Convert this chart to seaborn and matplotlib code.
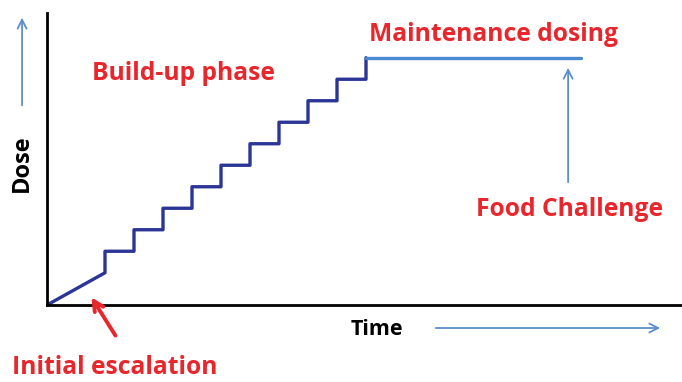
import numpy as np
import pandas as pd
import matplotlib.pyplot as plt
import seaborn as sns

# schematic units: 1 time unit ~ one build-up step, 1 dose unit ~ one increment
escalation_time = [0, 2]
escalation_dose = [0, 1.5]
step_times = [2, 3, 4, 5, 6, 7, 8, 9, 10, 11]
step_doses = [1.5, 2.5, 3.5, 4.5, 5.5, 6.5, 7.5, 8.5, 9.5, 10.5, 11.5]
maint_time = [11, 18.4]
maint_dose = [11.5, 11.5]

RED = "#e8262c"
NAVY = "#2b3595"
LIGHT = "#4a8ad0"
ARROW = "#5b8fc9"


def build_path():
    xs = list(escalation_time)
    ys = list(escalation_dose)
    for i, t in enumerate(step_times):
        xs += [t, t]
        ys += [step_doses[i], step_doses[i + 1]]
    xs.append(maint_time[0])
    ys.append(maint_dose[0])
    return pd.DataFrame({"Time": xs, "Dose": ys})


sns.set_style("white")
plt.rcParams["font.family"] = ["Open Sans", "DejaVu Sans"]

fig = plt.figure(figsize=(6.82, 3.82), dpi=100)
ax = fig.add_axes([47 / 682, 77 / 382, 635 / 682, 292 / 382])

path_df = build_path()
sns.lineplot(data=path_df, x="Time", y="Dose", sort=False, estimator=None,
             color=NAVY, lw=2.4, ax=ax)
sns.lineplot(x=maint_time, y=maint_dose, sort=False, estimator=None,
             color=LIGHT, lw=2.4, ax=ax)

ax.set_xlim(0, 635 / 29)
ax.set_ylim(0, 292 / 21.5)
ax.set_xticks([])
ax.set_yticks([])
ax.set_xlabel("")
ax.set_ylabel("")
for side in ["top", "right"]:
    ax.spines[side].set_visible(False)
for side in ["left", "bottom"]:
    ax.spines[side].set_color("black")
    ax.spines[side].set_linewidth(2.0)

txt = dict(fontweight="bold", fontsize=17.7, ha="center", va="center",
           clip_on=False)
ax.text(4.69, 10.79, "Build-up phase", color=RED, **txt)
ax.text(15.38, 12.56, "Maintenance dosing", color=RED, **txt)
ax.text(18.02, 4.42, "Food Challenge", color=RED, **txt)
ax.text(2.34, -2.93, "Initial escalation", color=RED, **txt)
ax.text(11.38, -1.16, "Time", color="black", **dict(txt, fontsize=15.5))
ax.text(-0.86, 6.6, "Dose", color="black", rotation=90,
        **dict(txt, fontsize=17))

blue_arrow = dict(arrowstyle="->", color=ARROW, lw=1.3, mutation_scale=16)
ax.annotate("", xy=(17.97, 11.16), xytext=(17.97, 5.58),
            arrowprops=blue_arrow, annotation_clip=False)
ax.annotate("", xy=(21.24, -1.07), xytext=(13.31, -1.07),
            arrowprops=blue_arrow, annotation_clip=False)
ax.annotate("", xy=(-0.86, 13.49), xytext=(-0.86, 9.16),
            arrowprops=blue_arrow, annotation_clip=False)
ax.annotate("", xy=(1.48, 0.47), xytext=(2.41, -1.53),
            arrowprops=dict(arrowstyle="->", color=RED, lw=2.8,
                            mutation_scale=18),
            annotation_clip=False)

fig.savefig("out.png", dpi=100)
